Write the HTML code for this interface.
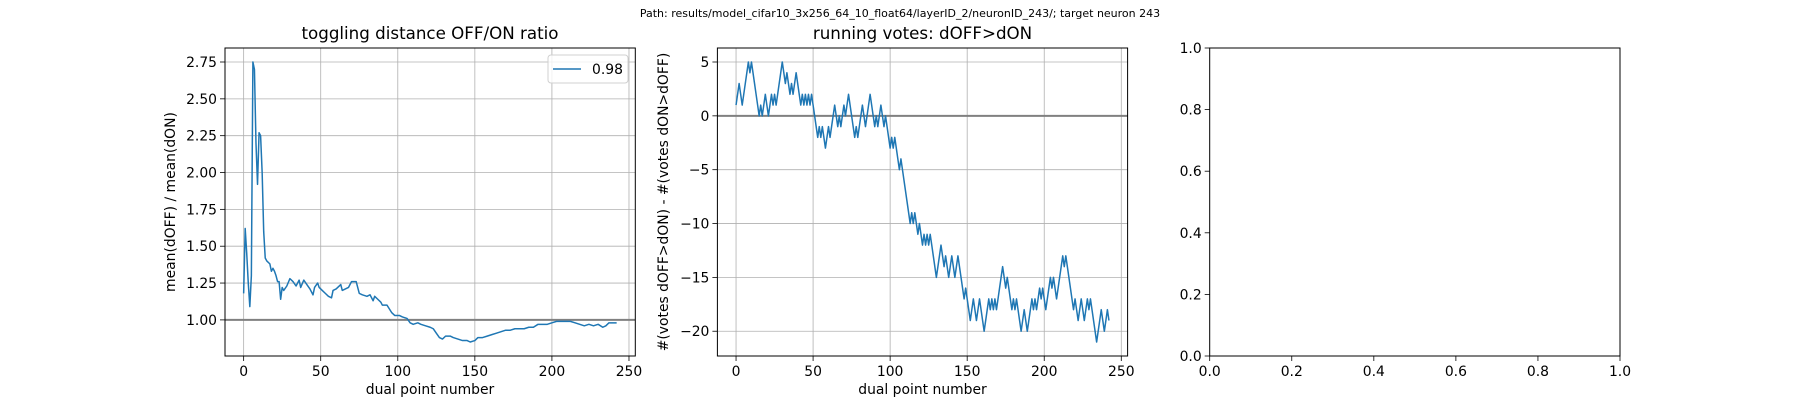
<!DOCTYPE html>
<html><head><meta charset="utf-8"><style>
body{margin:0;background:#fff;}
svg{display:block;font-family:"DejaVu Sans","Liberation Sans",sans-serif;}
</style></head><body>
<svg id="fig" width="1800" height="400" xmlns="http://www.w3.org/2000/svg">
<rect width="1800" height="400" fill="#fff"/>
<text x="900" y="17" font-size="11" text-anchor="middle" fill="#000">Path: results/model_cifar10_3x256_64_10_float64/layerID_2/neuronID_243/; target neuron 243</text>
</svg>
<script>
const ratioX=[0,1,2,3,4,5,6,7,8,9,10,11,12,13,14,15,17,18,19,20,21,22,23,24,25,26,28,30,32,34,36,37,39,41,43,45,46,48,49,51,53,55,57,58,60,63,64,66,68,70,73,75,77,80,82,84,85,87,89,90,93,96,98,101,103,106,108,110,113,115,118,121,123,125,127,129,131,134,136,139,142,145,147,150,152,155,158,161,164,167,170,173,176,179,182,185,188,191,194,197,200,203,206,209,212,215,218,221,224,227,230,233,235,237,240,242];
const ratioY=[1.18,1.62,1.45,1.25,1.09,1.3,2.75,2.70,2.2,1.92,2.27,2.25,2.0,1.6,1.42,1.40,1.38,1.33,1.35,1.33,1.30,1.26,1.26,1.14,1.22,1.20,1.23,1.28,1.26,1.23,1.27,1.22,1.27,1.24,1.21,1.17,1.22,1.25,1.22,1.20,1.18,1.16,1.15,1.20,1.21,1.24,1.20,1.21,1.22,1.26,1.26,1.18,1.17,1.16,1.17,1.13,1.16,1.14,1.12,1.10,1.10,1.05,1.03,1.03,1.02,1.01,0.98,0.97,0.98,0.97,0.96,0.95,0.94,0.91,0.88,0.87,0.89,0.89,0.88,0.87,0.86,0.86,0.85,0.86,0.88,0.88,0.89,0.90,0.91,0.92,0.93,0.93,0.94,0.94,0.94,0.95,0.95,0.97,0.97,0.97,0.98,0.99,0.99,0.99,0.99,0.98,0.97,0.96,0.97,0.96,0.97,0.95,0.96,0.98,0.98,0.98];
const votes=[1,2,3,2,1,2,3,4,5,4,5,4,3,2,1,0,1,0,1,2,1,0,1,2,1,2,1,2,3,4,5,4,3,4,3,2,3,2,3,4,3,2,1,2,1,2,1,2,1,2,1,0,-1,-2,-1,-2,-1,-2,-3,-2,-1,-2,-1,0,1,0,-1,0,-1,0,1,0,1,2,1,0,-1,-2,-1,-2,-1,0,1,0,-1,0,1,2,1,0,-1,0,-1,0,1,0,-1,0,-1,-2,-3,-2,-3,-2,-3,-4,-5,-4,-5,-6,-7,-8,-9,-10,-9,-10,-9,-10,-11,-10,-11,-12,-11,-12,-11,-12,-11,-12,-13,-14,-15,-14,-13,-12,-13,-14,-13,-14,-15,-14,-13,-14,-15,-14,-13,-14,-15,-16,-17,-16,-17,-18,-19,-18,-17,-18,-19,-18,-17,-18,-19,-20,-19,-18,-17,-18,-17,-18,-17,-18,-17,-16,-15,-14,-15,-16,-15,-16,-17,-18,-17,-18,-17,-18,-19,-20,-19,-18,-19,-20,-19,-18,-17,-18,-17,-18,-17,-16,-17,-16,-17,-18,-17,-16,-15,-16,-15,-16,-17,-16,-15,-14,-13,-14,-13,-14,-15,-16,-17,-18,-17,-18,-19,-18,-17,-18,-19,-18,-17,-18,-17,-18,-19,-20,-21,-20,-19,-18,-19,-20,-19,-18,-19];
const xTicks=[0,50,100,150,200,250];
const ratioTicks=[1.00,1.25,1.50,1.75,2.00,2.25,2.50,2.75];
const voteTicks=[-20,-15,-10,-5,0,5];
const unitTicks=[0,0.2,0.4,0.6,0.8,1.0];
const legendLabel="0.98";

const NS="http://www.w3.org/2000/svg";
const fig=document.getElementById('fig');
function el(tag,attrs,parent,txt){const e=document.createElementNS(NS,tag);for(const k in attrs)e.setAttribute(k,attrs[k]);if(txt!==undefined)e.textContent=txt;(parent||fig).appendChild(e);return e;}
const T=48,B=356;
function fmt(v,d){return (v<0?'\u2212':'')+Math.abs(v).toFixed(d);}
function axes(name,L,R,xmin,xmax,ymin,ymax,xt,yt,xd,yd,grid){
  const g=el('g',{});
  
  
  const sx=v=>L+(v-xmin)/(xmax-xmin)*(R-L);
  const sy=v=>B-(v-ymin)/(ymax-ymin)*(B-T);
  const cp='clip-'+name;
  const d=el('clipPath',{id:cp},g);el('rect',{x:L,y:T,width:R-L,height:B-T},d);
  xt.forEach(v=>{const x=sx(v);
    if(grid){const gl=el('line',{x1:x,x2:x,y1:T,y2:B,stroke:'#b0b0b0','stroke-width':0.8},g);}
    el('line',{x1:x,x2:x,y1:B,y2:B+5,stroke:'#000','stroke-width':0.8},g);
    const t=el('text',{x:x,y:B+20,'font-size':13.9,'text-anchor':'middle'},g,fmt(v,xd));
    });
  yt.forEach(v=>{const y=sy(v);
    if(grid){const gl=el('line',{x1:L,x2:R,y1:y,y2:y,stroke:'#b0b0b0','stroke-width':0.8},g);}
    el('line',{x1:L-5,x2:L,y1:y,y2:y,stroke:'#000','stroke-width':0.8},g);
    const t=el('text',{x:L-8,y:y+5,'font-size':13.9,'text-anchor':'end'},g,fmt(v,yd));
    });
  return {g,sx,sy,cp,L,R};
}
function frame(a){const r=el('rect',{x:a.L,y:T,width:a.R-a.L,height:B-T,fill:'none',stroke:'#000','stroke-width':1},a.g);}
function line(a,xs,ys,name){
  const d=xs.map((x,i)=>(i?'L':'M')+a.sx(x).toFixed(2)+','+a.sy(ys[i]).toFixed(2)).join('');
  const p=el('path',{d:d,fill:'none',stroke:'#1f77b4','stroke-width':1.5,'stroke-linejoin':'round','clip-path':'url(#'+a.cp+')'},a.g);
  
}
function hline(a,v){const l=el('line',{x1:a.L,x2:a.R,y1:a.sy(v),y2:a.sy(v),stroke:'#808080','stroke-width':2},a.g);}
function label(a,txt,x,y,rot,size,name){const t=el('text',{x:x,y:y,'font-size':size,'text-anchor':'middle',transform:rot?`rotate(-90 ${x} ${y})`:''},a.g,txt);}

const n=votes.length-1;
const xm=n*0.05;
// panel 1
const rmin=Math.min(...ratioY),rmax=Math.max(...ratioY),rm=(rmax-rmin)*0.05;
const a1=axes('ratio-panel',225,635.3,-xm,n+xm,rmin-rm,rmax+rm,xTicks,ratioTicks,0,2,true);
hline(a1,1);
line(a1,ratioX,ratioY,'ratio-series-line');
frame(a1);
label(a1,'toggling distance OFF/ON ratio',430,39,false,16.7,'ratio-panel-title');
label(a1,'dual point number',430,394,false,13.9,'x-axis-title');
label(a1,'mean(dOFF) / mean(dON)',175,202,true,13.9,'y-axis-title');
const lg=el('g',{},a1.g);


el('rect',{x:548,y:55,width:80,height:28,rx:3,fill:'#fff','fill-opacity':0.8,stroke:'#d0d0d0'},lg);
el('line',{x1:553,x2:581,y1:69,y2:69,stroke:'#1f77b4','stroke-width':1.5},lg);
const lt=el('text',{x:592,y:74,'font-size':13.9},lg,legendLabel);


// panel 2
const idx=votes.map((v,i)=>i);
const vmin=Math.min(...votes),vmax=Math.max(...votes),vm=(vmax-vmin)*0.05;
const a2=axes('votes-panel',717.4,1127.6,-xm,n+xm,vmin-vm,vmax+vm,xTicks,voteTicks,0,0,true);
hline(a2,0);
line(a2,idx,votes,'votes-series-line');
frame(a2);
label(a2,'running votes: dOFF>dON',922.5,39,false,16.7,'votes-panel-title');
label(a2,'dual point number',922.5,394,false,13.9,'x-axis-title');
label(a2,'#(votes dOFF>dON) - #(votes dON>dOFF)',668,202,true,13.9,'y-axis-title');
// panel 3
const a3=axes('empty-panel',1209.7,1620,0,1,0,1,unitTicks,unitTicks,1,1,false);
frame(a3);
</script>
</body></html>
